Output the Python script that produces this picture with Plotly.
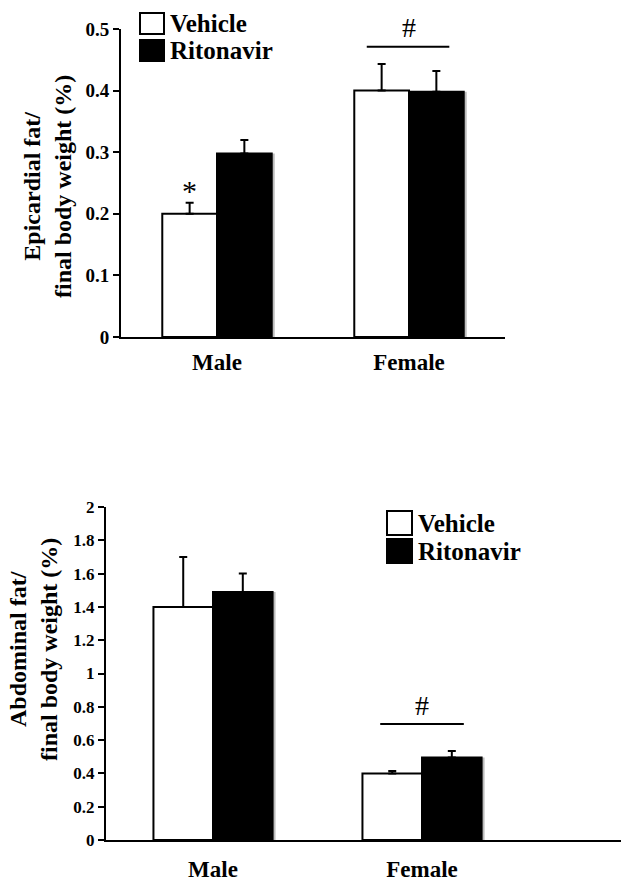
import plotly.graph_objects as go

W, H = 621, 882

groups = ["Male", "Female"]
series_names = ["Vehicle", "Ritonavir"]

# Top panel: epicardial fat / final body weight (%)
epi_vehicle = [0.200, 0.400]
epi_vehicle_err = [0.018, 0.043]
epi_ritonavir = [0.298, 0.398]
epi_ritonavir_err = [0.022, 0.034]
epi_ticks = [0, 0.1, 0.2, 0.3, 0.4, 0.5]
epi_ticklabels = ["0", "0.1", "0.2", "0.3", "0.4", "0.5"]

# Bottom panel: abdominal fat / final body weight (%)
abd_vehicle = [1.40, 0.40]
abd_vehicle_err = [0.30, 0.014]
abd_ritonavir = [1.49, 0.495]
abd_ritonavir_err = [0.11, 0.04]
abd_ticks = [0, 0.2, 0.4, 0.6, 0.8, 1, 1.2, 1.4, 1.6, 1.8, 2]
abd_ticklabels = ["0", "0.2", "0.4", "0.6", "0.8", "1", "1.2", "1.4", "1.6", "1.8", "2"]

FONT = "Liberation Serif"
BAR_W = 0.285
xpos = [0, 1]


def px(x):
    return x / W


def py(y):
    return 1 - y / H


fig = go.Figure()


def add_panel(xa, ya, veh, veh_err, rit, rit_err, shadow_shift):
    # soft grey shadow behind the black bars
    fig.add_trace(go.Bar(x=xpos, y=rit, width=BAR_W, offset=shadow_shift,
                         marker=dict(color="#bdbdbd", line=dict(width=0)),
                         showlegend=False, hoverinfo="skip",
                         xaxis=xa, yaxis=ya))
    fig.add_trace(go.Bar(x=xpos, y=veh, width=BAR_W, offset=-BAR_W,
                         name=series_names[0],
                         marker=dict(color="white", line=dict(color="black", width=2)),
                         error_y=dict(type="data", array=veh_err, symmetric=False,
                                      arrayminus=[0, 0], color="black",
                                      thickness=2, width=4),
                         showlegend=False, xaxis=xa, yaxis=ya))
    fig.add_trace(go.Bar(x=xpos, y=rit, width=BAR_W, offset=0,
                         name=series_names[1],
                         marker=dict(color="black", line=dict(color="black", width=2)),
                         error_y=dict(type="data", array=rit_err, symmetric=False,
                                      arrayminus=[0, 0], color="black",
                                      thickness=2, width=4),
                         showlegend=False, xaxis=xa, yaxis=ya))


add_panel("x", "y", epi_vehicle, epi_vehicle_err, epi_ritonavir, epi_ritonavir_err, 3 / 192)
add_panel("x2", "y2", abd_vehicle, abd_vehicle_err, abd_ritonavir, abd_ritonavir_err, 3 / 209)

tickfont = dict(family=FONT, size=19, color="black", weight="bold")
catfont = dict(family=FONT, size=23, color="black", weight="bold")

common = dict(showline=True, linecolor="black", linewidth=2,
              showgrid=False, zeroline=False, fixedrange=True, automargin=False)

fig.update_layout(
    width=W, height=H,
    margin=dict(l=0, r=0, t=0, b=0, pad=0, autoexpand=False),
    paper_bgcolor="white", plot_bgcolor="white",
    barmode="overlay",
    showlegend=False,
    xaxis=dict(domain=[px(121), px(505)], range=[-0.5, 1.5],
               tickvals=xpos, ticktext=groups, tickfont=catfont,
               ticks="", ticklabelstandoff=3, **common),
    yaxis=dict(domain=[py(337), py(29)], range=[0, 0.5],
               tickvals=epi_ticks, ticktext=epi_ticklabels, tickfont=tickfont,
               ticks="outside", ticklen=6, tickwidth=2, tickcolor="black", **common),
    xaxis2=dict(domain=[px(106), 1.0], range=[-0.512, 1.952], anchor="y2",
                tickvals=xpos, ticktext=groups, tickfont=catfont,
                ticks="", ticklabelstandoff=7, **common),
    yaxis2=dict(domain=[py(840), py(507)], range=[0, 2], anchor="x2",
                tickvals=abd_ticks, ticktext=abd_ticklabels,
                tickfont=dict(family=FONT, size=17, color="black", weight="bold"),
                ticks="outside", ticklen=6, tickwidth=2, tickcolor="black", **common),
)

# y-axis titles
fig.add_annotation(text="Epicardial fat/<br>final body weight (%)", xref="paper", yref="paper",
                   x=px(48), y=py(187), textangle=-90, showarrow=False,
                   font=dict(family=FONT, size=24, color="black", weight="bold"),
                   xanchor="center", yanchor="middle")
fig.add_annotation(text="Abdominal fat/<br>final body weight (%)", xref="paper", yref="paper",
                   x=px(33), y=py(650), textangle=-90, showarrow=False,
                   font=dict(family=FONT, size=24, color="black", weight="bold"),
                   xanchor="center", yanchor="middle")

# significance marks
fig.add_annotation(text="*", xref="x", yref="y", x=xpos[0] - BAR_W / 2,
                   y=epi_vehicle[0] + epi_vehicle_err[0], yanchor="bottom", yshift=-6,
                   showarrow=False, font=dict(family=FONT, size=30, color="black"))
fig.add_shape(type="line", xref="x", yref="y", x0=xpos[1] - 0.22, x1=xpos[1] + 0.21,
              y0=0.471, y1=0.471, line=dict(color="black", width=2))
fig.add_annotation(text="#", xref="x", yref="y", x=xpos[1], y=0.474, yanchor="bottom",
                   showarrow=False, font=dict(family=FONT, size=28, color="black"))

fig.add_shape(type="line", xref="x2", yref="y2", x0=xpos[1] - 0.2, x1=xpos[1] + 0.2,
              y0=0.696, y1=0.696, line=dict(color="black", width=2))
fig.add_annotation(text="#", xref="x2", yref="y2", x=xpos[1], y=0.705, yanchor="bottom",
                   showarrow=False, font=dict(family=FONT, size=28, color="black"))


# custom legends
def legend(x0, y_white, y_black, box_w, box_h):
    fig.add_shape(type="rect", xref="paper", yref="paper",
                  x0=px(x0), x1=px(x0 + box_w), y0=py(y_white + box_h), y1=py(y_white),
                  fillcolor="white", line=dict(color="black", width=2))
    fig.add_shape(type="rect", xref="paper", yref="paper",
                  x0=px(x0), x1=px(x0 + box_w), y0=py(y_black + box_h), y1=py(y_black),
                  fillcolor="black", line=dict(color="black", width=2))
    for name, yy in zip(series_names, [y_white, y_black]):
        fig.add_annotation(text=name, xref="paper", yref="paper",
                           x=px(x0 + box_w + 4), y=py(yy + box_h / 2),
                           xanchor="left", yanchor="middle", showarrow=False,
                           font=dict(family=FONT, size=25, color="black", weight="bold"))


legend(140, 13, 40, 24, 21)
legend(387, 511, 539, 25, 24)

fig.write_html("out.html", config={"displayModeBar": False},
               post_script="document.body.style.margin='0';"
                           "document.body.style.overflow='hidden';"
                           "document.documentElement.style.overflow='hidden';")
